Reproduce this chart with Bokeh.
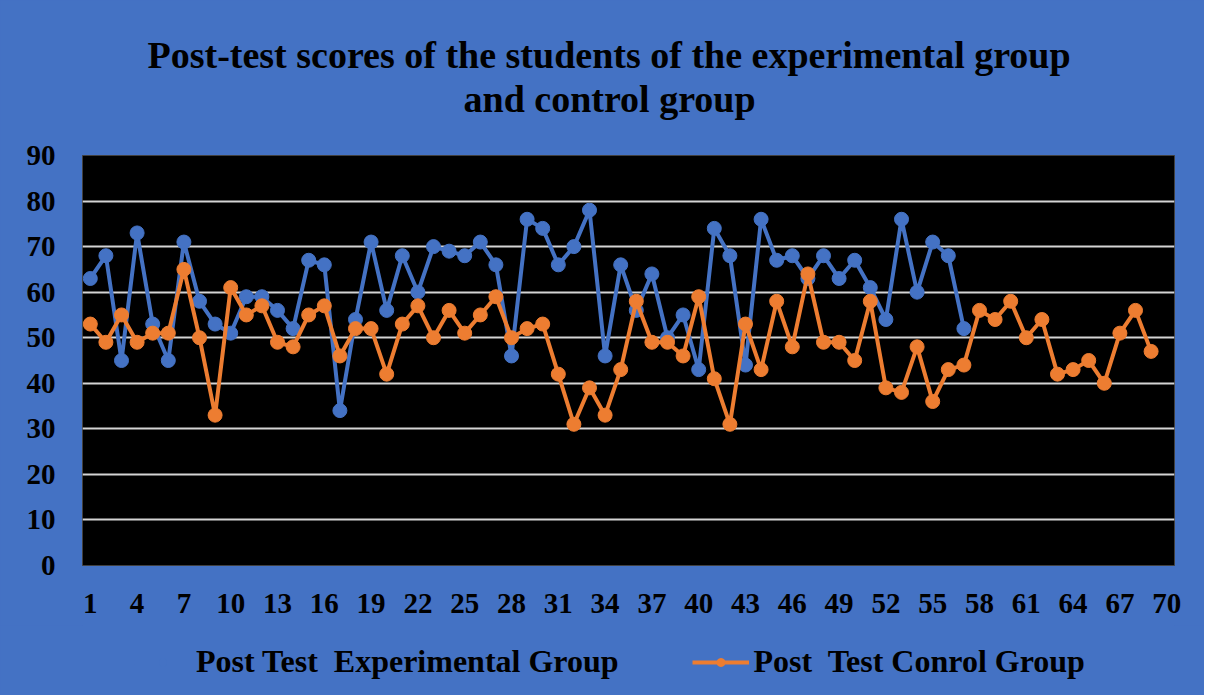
from bokeh.plotting import figure
from bokeh.layouts import column
from bokeh.models import Range1d, FixedTicker, Legend, LegendItem, Title, ColumnDataSource
from bokeh.embed import file_html
from bokeh.resources import INLINE

# ---- data ----
experimental = [63, 68, 45, 73, 53, 45, 71, 58, 53, 51,
                59, 59, 56, 52, 67, 66, 34, 54, 71, 56,
                68, 60, 70, 69, 68, 71, 66, 46, 76, 74,
                66, 70, 78, 46, 66, 56, 64, 50, 55, 43,
                74, 68, 44, 76, 67, 68, 63, 68, 63, 67,
                61, 54, 76, 60, 71, 68, 52]
control = [53, 49, 55, 49, 51, 51, 65, 50, 33, 61,
           55, 57, 49, 48, 55, 57, 46, 52, 52, 42,
           53, 57, 50, 56, 51, 55, 59, 50, 52, 53,
           42, 31, 39, 33, 43, 58, 49, 49, 46, 59,
           41, 31, 53, 43, 58, 48, 64, 49, 49, 45,
           58, 39, 38, 48, 36, 43, 44, 56, 54, 58,
           50, 54, 42, 43, 45, 40, 51, 56, 47]
exp_students = list(range(1, len(experimental) + 1))
ctl_students = list(range(1, len(control) + 1))
x_ticks = list(range(1, 71, 3))
y_ticks = list(range(0, 91, 10))
title_lines = ["Post-test scores of the students of the experimental group",
               "and control group"]
series_names = ["Post Test  Experimental Group", "Post  Test Conrol Group"]

BG = "#4472C4"
BLUE = "#4472C4"
ORANGE = "#ED7D31"
FONT = "Liberation Serif"

p = figure(frame_width=1092, frame_height=410,
           x_range=Range1d(0.5, 70.5), y_range=Range1d(0, 90),
           output_backend="svg", toolbar_location=None,
           background_fill_color="black", border_fill_color=BG,
           min_border_left=82, min_border_right=30,
           min_border_top=155, min_border_bottom=60)
p.outline_line_color = "#404040"
p.outline_line_width = 1

p.xgrid.grid_line_color = None
p.ygrid.grid_line_color = "#D4D4D4"
p.ygrid.grid_line_width = 2
p.ygrid.ticker = FixedTicker(ticks=y_ticks)

for ax in (p.xaxis[0], p.yaxis[0]):
    ax.axis_line_color = None
    ax.major_tick_line_color = None
    ax.minor_tick_line_color = None
    ax.major_label_text_font = FONT
    ax.major_label_text_font_style = "bold"
    ax.major_label_text_font_size = "29px"
    ax.major_label_text_color = "black"
p.xaxis.ticker = FixedTicker(ticks=x_ticks)
p.yaxis.ticker = FixedTicker(ticks=y_ticks)
p.xaxis.major_label_standoff = 22
p.yaxis.major_label_standoff = 21

src_e = ColumnDataSource(dict(x=exp_students, y=experimental))
src_c = ColumnDataSource(dict(x=ctl_students, y=control))

p.line("x", "y", source=src_e, line_color=BLUE, line_width=4)
p.scatter("x", "y", source=src_e, size=14, fill_color=BLUE, line_color=BLUE)
p.line("x", "y", source=src_c, line_color=ORANGE, line_width=4)
p.scatter("x", "y", source=src_c, size=14, fill_color=ORANGE, line_color=ORANGE)

# spacer between frame and title, then the two title lines (closest first)
p.add_layout(Title(text=" ", text_font_size="1px", standoff=33), "above")
for txt, off in zip(reversed(title_lines), [381, 65]):
    p.add_layout(Title(text=txt, align="left", offset=off, standoff=0,
                       text_font=FONT, text_font_style="bold",
                       text_font_size="38px", text_color="black"), "above")

# legend strip below the chart (swatch renderers lie outside its ranges)
lf = figure(width=1204, height=70, x_range=Range1d(0, 1), y_range=Range1d(0, 1),
            output_backend="svg", toolbar_location=None,
            x_axis_type=None, y_axis_type=None,
            background_fill_color=BG, border_fill_color=BG,
            min_border=0)
lf.outline_line_color = None
lf.grid.visible = False
swatch = ColumnDataSource(dict(x=[-5, -6], y=[-5, -6]))
le = lf.line("x", "y", source=swatch, line_color=BLUE, line_width=4)
se = lf.scatter("x", "y", source=swatch, size=14, fill_color=BLUE, line_color=BLUE)
lc = lf.line("x", "y", source=swatch, line_color=ORANGE, line_width=4)
sc = lf.scatter("x", "y", source=swatch, size=14, fill_color=ORANGE, line_color=ORANGE)
legend = Legend(items=[LegendItem(label=series_names[0], renderers=[le, se]),
                       LegendItem(label=series_names[1], renderers=[lc, sc])],
                orientation="horizontal", location=(52, 15),
                background_fill_alpha=0, border_line_color=None,
                label_text_font=FONT, label_text_font_style="bold",
                label_text_font_size="32px", label_text_color="black",
                glyph_width=57, glyph_height=20, label_standoff=5,
                spacing=73, padding=0, margin=0)
lf.add_layout(legend, "center")

layout = column(p, lf, styles={"background-color": BG})
open("out.html", "w").write(file_html(layout, INLINE))
